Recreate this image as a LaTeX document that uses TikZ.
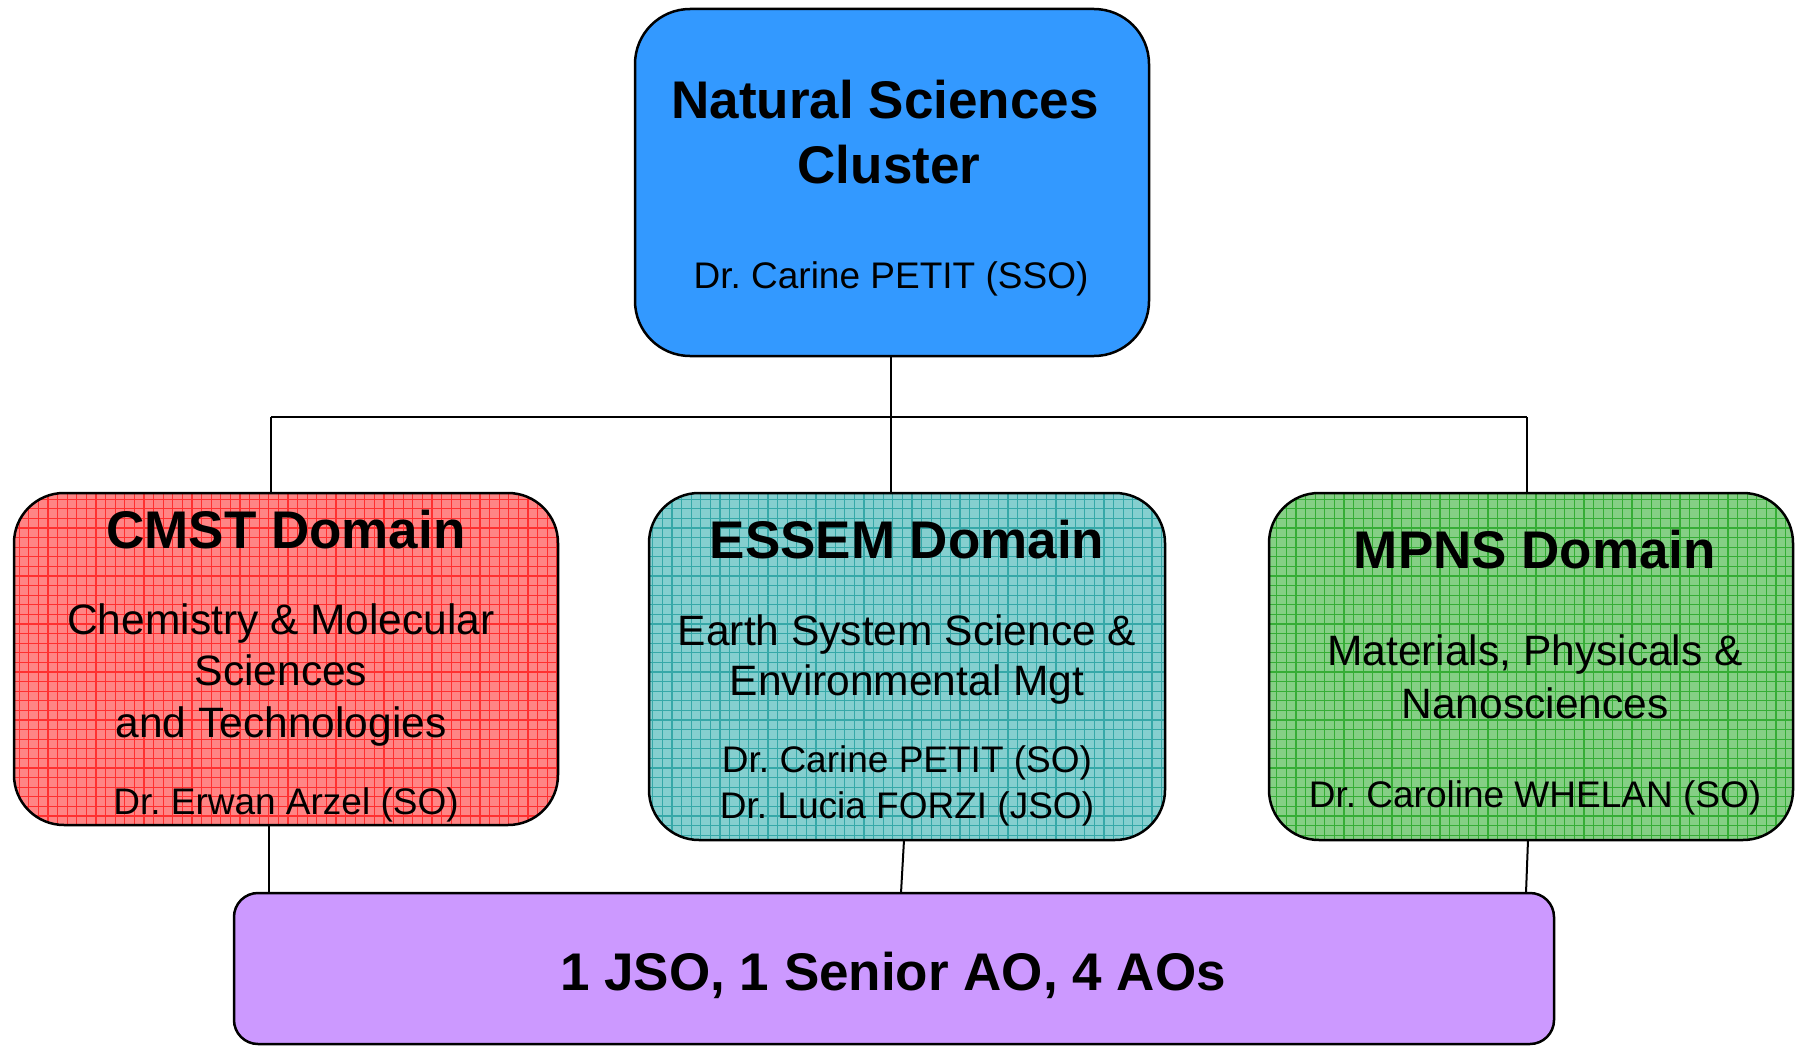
\documentclass[tikz,border=0pt]{standalone}
\usepackage{fontspec}
\setmainfont{Liberation Sans}
\frenchspacing
\definecolor{topblue}{HTML}{3399FF}
\definecolor{botpurple}{HTML}{CC99FF}
\definecolor{redbase}{HTML}{FF8585}
\definecolor{redline}{HTML}{FF3030}
\definecolor{tealbase}{HTML}{85CFCF}
\definecolor{tealline}{HTML}{36A8A8}
\definecolor{greenbase}{HTML}{85CF85}
\definecolor{greenline}{HTML}{36AD36}
\begin{document}
\begin{tikzpicture}[x=1pt,y=-1pt,
  shell/.style={rectangle, inner sep=0pt, outer sep=0pt},
  border/.style={draw=black, line width=2.5pt},
  link/.style={draw=black, line width=2pt},
  ttl/.style={font=\fontsize{53}{63}\selectfont\bfseries, anchor=base, inner sep=0pt},
  desc/.style={font=\fontsize{42.5}{51}\selectfont, anchor=base, inner sep=0pt},
  who/.style={font=\fontsize{37}{46}\selectfont, anchor=base, inner sep=0pt}]
\useasboundingbox (0,0) rectangle (1796,1046);

% box shells
\node[shell, minimum width=514pt, minimum height=347pt] (top) at (892,182.5) {};
\node[shell, minimum width=544pt, minimum height=332pt] (cmst) at (286,659) {};
\node[shell, minimum width=516pt, minimum height=347pt] (essem) at (907,666.5) {};
\node[shell, minimum width=524pt, minimum height=347pt] (mpns) at (1531,666.5) {};
\node[shell, minimum width=1320pt, minimum height=151pt] (bot) at (894,968.5) {};

% connectors
\coordinate (busL) at (271,417);
\coordinate (busR) at (1527,417);
\coordinate (busC) at (891,417);
\coordinate (c1) at (269,825);
\coordinate (e1) at (904,840);
\coordinate (e2) at (901,893);
\coordinate (m1) at (1528,840);
\coordinate (m2) at (1526,893);
\draw[link] (busC |- top.south) -- (busC |- essem.north);
\draw[link] (busL) -- (busR);
\draw[link] (busL) -- (busL |- cmst.north);
\draw[link] (busR) -- (busR |- mpns.north);
\draw[link] (c1) -- (c1 |- bot.north);
\draw[link] (e1) -- (e2);
\draw[link] (m1) -- (m2);

% top box
\draw[border, fill=topblue, rounded corners=55pt] (top.north west) rectangle (top.south east);
% bottom box
\draw[border, fill=botpurple, rounded corners=24pt] (bot.north west) rectangle (bot.south east);

% patterned boxes
\foreach \b/\base/\ln in {cmst/redbase/redline, essem/tealbase/tealline, mpns/greenbase/greenline}{
  \begin{scope}
    \clip[rounded corners=50pt] (\b.north west) rectangle (\b.south east);
    \fill[\base] (\b.north west) rectangle (\b.south east);
    \draw[\ln, line width=1.2pt, step=9.6pt] (\b.north west) grid (\b.south east);
  \end{scope}
  \draw[border, rounded corners=50pt] (\b.north west) rectangle (\b.south east);
}

% texts
\node[ttl] (t1) at (885,119) {Natural Sciences};
\node[ttl] (t2) at (889,183) {Cluster};
\node[who] (t3) at (891,288) {Dr. Carine PETIT (SSO)};

\node[ttl] (c_t) at (286,548) {CMST Domain};
\node[desc] (c_d1) at (281,634) {Chemistry \& Molecular};
\node[desc] (c_d2) at (281,685) {Sciences};
\node[desc] (c_d3) at (281,737) {and Technologies};
\node[who] (c_w) at (286,814) {Dr. Erwan Arzel (SO)};

\node[ttl] (e_t) at (907,558) {ESSEM Domain};
\node[desc] (e_d1) at (907,645) {Earth System Science \&};
\node[desc] (e_d2) at (907,695) {Environmental Mgt};
\node[who] (e_w1) at (907,772) {Dr. Carine PETIT (SO)};
\node[who] (e_w2) at (907,818) {Dr. Lucia FORZI (JSO)};

\node[ttl] (m_t) at (1535,568) {MPNS Domain};
\node[desc] (m_d1) at (1535,665) {Materials, Physicals \&};
\node[desc] (m_d2) at (1535,718) {Nanosciences};
\node[who] (m_w) at (1535,807) {Dr. Caroline WHELAN (SO)};

\node[ttl] (b_t) at (893,990) {1 JSO, 1 Senior AO, 4 AOs};
\end{tikzpicture}
\end{document}
